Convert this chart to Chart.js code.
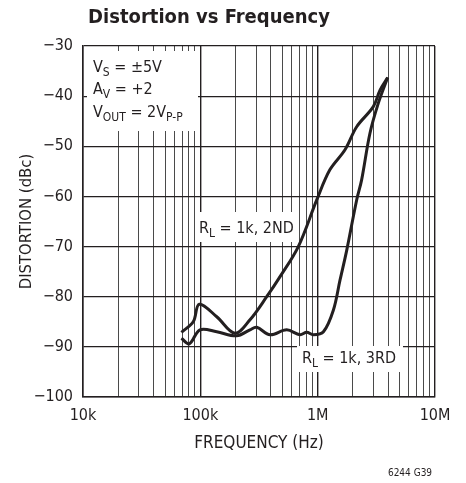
<!DOCTYPE html>
<html>
<head>
<meta charset="utf-8">
<script src="https://cdn.jsdelivr.net/npm/chart.js"></script>
<style>
  html, body { margin: 0; padding: 0; background: #fff; }
  #wrap { width: 466px; height: 483px; position: relative; }
</style>
</head>
<body>
<div id="wrap"><canvas id="chart"></canvas></div>
<script>
// values (Hz, dBc)
const freq2nd = [69000, 87000, 98000, 138000, 197000, 265000, 368000, 478000, 684000, 982000, 1270000, 1710000, 2150000, 2980000, 3400000, 3950000];
const dist2nd = [-87.1, -85.0, -81.5, -84.0, -87.3, -84.6, -80.0, -76.0, -70.0, -60.7, -54.7, -50.7, -46.1, -42.1, -38.8, -36.3];

const freq3rd = [69000, 80500, 99300, 138000, 204000, 265000, 302000, 393000, 545000, 706000, 807000, 918000, 1120000, 1360000, 1550000, 1770000, 2150000, 2370000, 2790000, 3290000, 3950000];
const dist3rd = [-88.3, -89.4, -86.6, -87.0, -87.8, -86.6, -86.1, -87.6, -86.6, -87.6, -87.1, -87.6, -87.0, -82.7, -76.7, -70.7, -60.7, -56.7, -47.4, -41.4, -36.3];

const decadeLabels = { 10000: "10k", 100000: "100k", 1000000: "1M", 10000000: "10M" };
const yMin = -100;
const yMax = -30;

const INK = "#231f20";
const FONT = "'Liberation Sans Narrow', 'DejaVu Sans Condensed', 'Liberation Sans', sans-serif";

function toPoints(xs, ys) {
  return xs.map((x, i) => ({ x, y: ys[i] }));
}

function isDecade(v) {
  const l = Math.log10(v);
  return Math.abs(l - Math.round(l)) < 1e-9;
}

// draw text with subscript pieces: parts = [[text, isSub], ...]
function richText(ctx, x, y, parts, size) {
  let cx = x;
  parts.forEach(([txt, sub]) => {
    const fs = sub ? Math.round(size * 0.75) : size;
    ctx.font = fs + "px " + FONT;
    ctx.fillText(txt, cx, sub ? y + 4 : y);
    cx += ctx.measureText(txt).width;
  });
}

const notes = {
  id: "notes",
  beforeDatasetsDraw(chart) {
    const { ctx } = chart;
    ctx.save();
    // white boxes hiding the grid behind the labels
    ctx.fillStyle = "#fff";
    ctx.fillRect(87, 51, 111, 80);
    ctx.fillRect(196, 212, 101, 30);
    ctx.fillRect(297, 346, 106, 26);

    ctx.fillStyle = INK;
    ctx.textAlign = "left";
    ctx.textBaseline = "alphabetic";
    richText(ctx, 93, 72, [["V", 0], ["S", 1], [" = ±5V", 0]], 16);
    richText(ctx, 93, 94, [["A", 0], ["V", 1], [" = +2", 0]], 16);
    richText(ctx, 93, 117, [["V", 0], ["OUT", 1], [" = 2V", 0], ["P-P", 1]], 16);
    richText(ctx, 199, 233, [["R", 0], ["L", 1], [" = 1k, 2ND", 0]], 16);
    richText(ctx, 302, 363, [["R", 0], ["L", 1], [" = 1k, 3RD", 0]], 16);
    ctx.restore();
  },
  afterDraw(chart) {
    const { ctx } = chart;
    ctx.save();
    ctx.fillStyle = INK;
    ctx.textAlign = "center";
    ctx.textBaseline = "alphabetic";
    ctx.font = "bold 20px " + FONT;
    ctx.fillText("Distortion vs Frequency", 209, 23);
    ctx.font = "10px " + FONT;
    ctx.fillText("6244 G39", 410, 476);
    ctx.restore();
  }
};

const lineStyle = {
  borderColor: INK,
  borderWidth: 3,
  pointRadius: 0,
  fill: false,
  tension: 0.35
};

new Chart(document.getElementById("chart"), {
  type: "line",
  data: {
    datasets: [
      Object.assign({ label: "RL = 1k, 2ND", data: toPoints(freq2nd, dist2nd) }, lineStyle),
      Object.assign({ label: "RL = 1k, 3RD", data: toPoints(freq3rd, dist3rd) }, lineStyle)
    ]
  },
  options: {
    responsive: true,
    maintainAspectRatio: false,
    animation: false,
    layout: { padding: { top: 46, right: 31, left: 0, bottom: 0 } },
    plugins: {
      legend: { display: false },
      title: { display: false },
      tooltip: { enabled: false }
    },
    scales: {
      x: {
        type: "logarithmic",
        min: 1e4,
        max: 1e7,
        afterBuildTicks(scale) {
          const ticks = [];
          for (let d = 1e4; d < 1e7; d *= 10) {
            for (let m = 1; m < 10; m++) ticks.push({ value: m * d });
          }
          ticks.push({ value: 1e7 });
          scale.ticks = ticks;
        },
        afterFit(scale) { scale.height = 86; },
        ticks: {
          autoSkip: false,
          maxRotation: 0,
          minRotation: 0,
          padding: 9,
          color: INK,
          font: { family: FONT, size: 16 },
          callback: (v) => decadeLabels[v] || ""
        },
        grid: {
          drawTicks: false,
          color: (c) => (c.tick && isDecade(c.tick.value) ? INK : "#4a4a4a"),
          lineWidth: (c) => (c.tick && isDecade(c.tick.value) ? 1.4 : 1)
        },
        border: { color: INK, width: 1.5 },
        title: {
          display: true,
          text: "FREQUENCY (Hz)",
          color: INK,
          font: { family: FONT, size: 17 },
          padding: { top: 0, bottom: 29 }
        }
      },
      y: {
        min: yMin,
        max: yMax,
        afterFit(scale) { scale.width = 83; },
        ticks: {
          stepSize: 10,
          padding: 10,
          color: INK,
          font: { family: FONT, size: 16 },
          callback: (v) => (v < 0 ? "\u2212" + Math.abs(v) : String(v))
        },
        grid: {
          drawTicks: false,
          color: INK,
          lineWidth: 1.2
        },
        border: { color: INK, width: 1.5 },
        title: {
          display: true,
          text: "DISTORTION (dBc)",
          color: INK,
          font: { family: FONT, size: 16.5 },
          padding: { top: 17, bottom: 0 }
        }
      }
    }
  },
  plugins: [notes]
});
</script>
</body>
</html>
